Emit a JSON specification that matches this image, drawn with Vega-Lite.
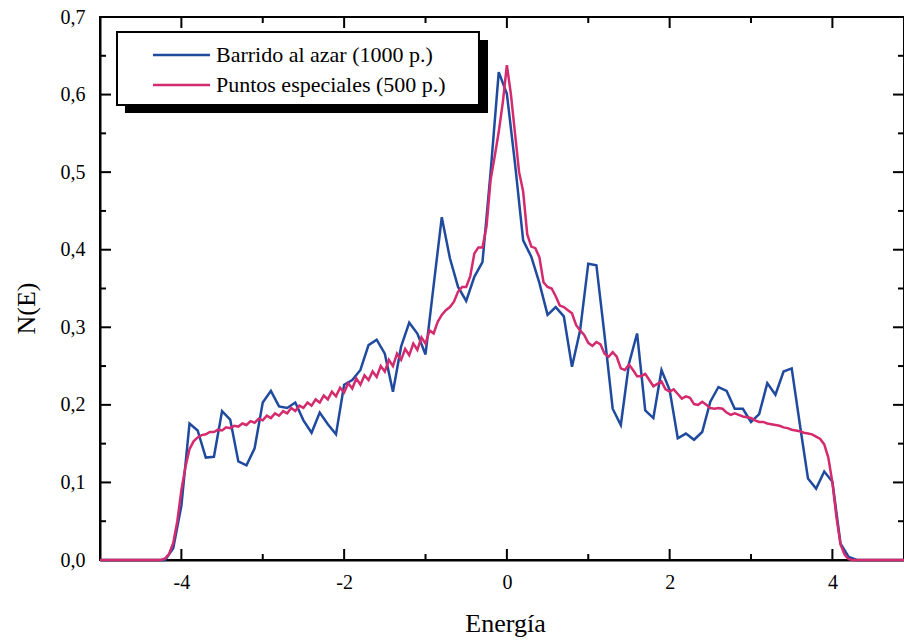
{
  "$schema": "https://vega.github.io/schema/vega-lite/v6.json",
  "width": 804,
  "height": 543,
  "autosize": {"type": "none"},
  "padding": {"left": 100, "top": 17, "right": 0, "bottom": 81},
  "background": "white",
  "config": {
    "font": "Liberation Serif",
    "view": {"stroke": "black", "strokeWidth": 2},
    "axis": {"labelFont": "Liberation Serif", "titleFont": "Liberation Serif", "domainColor": "black", "domainWidth": 2, "ticks": false, "grid": false, "labelColor": "black", "titleColor": "black"}
  },
  "datasets": {
    "barrido": [
      {"e": -5.0, "n": 0}, {"e": -4.2, "n": 0}, {"e": -4.1, "n": 0.015}, {"e": -4.0, "n": 0.07},
      {"e": -3.9, "n": 0.176}, {"e": -3.8, "n": 0.167}, {"e": -3.7, "n": 0.132}, {"e": -3.6, "n": 0.133},
      {"e": -3.5, "n": 0.192}, {"e": -3.4, "n": 0.181}, {"e": -3.3, "n": 0.127}, {"e": -3.2, "n": 0.122},
      {"e": -3.1, "n": 0.144}, {"e": -3.0, "n": 0.203}, {"e": -2.9, "n": 0.218}, {"e": -2.8, "n": 0.198},
      {"e": -2.7, "n": 0.196}, {"e": -2.6, "n": 0.203}, {"e": -2.5, "n": 0.180}, {"e": -2.4, "n": 0.164},
      {"e": -2.3, "n": 0.190}, {"e": -2.2, "n": 0.175}, {"e": -2.1, "n": 0.162}, {"e": -2.0, "n": 0.226},
      {"e": -1.9, "n": 0.232}, {"e": -1.8, "n": 0.245}, {"e": -1.7, "n": 0.277}, {"e": -1.6, "n": 0.284},
      {"e": -1.5, "n": 0.266}, {"e": -1.4, "n": 0.217}, {"e": -1.3, "n": 0.275}, {"e": -1.2, "n": 0.306},
      {"e": -1.1, "n": 0.292}, {"e": -1.0, "n": 0.265}, {"e": -0.9, "n": 0.354}, {"e": -0.8, "n": 0.442},
      {"e": -0.7, "n": 0.389}, {"e": -0.6, "n": 0.352}, {"e": -0.5, "n": 0.334}, {"e": -0.4, "n": 0.365},
      {"e": -0.3, "n": 0.384}, {"e": -0.2, "n": 0.50}, {"e": -0.1, "n": 0.629}, {"e": 0.0, "n": 0.601},
      {"e": 0.1, "n": 0.511}, {"e": 0.2, "n": 0.412}, {"e": 0.3, "n": 0.391}, {"e": 0.4, "n": 0.357},
      {"e": 0.5, "n": 0.316}, {"e": 0.6, "n": 0.326}, {"e": 0.7, "n": 0.314}, {"e": 0.8, "n": 0.249},
      {"e": 0.9, "n": 0.296}, {"e": 1.0, "n": 0.382}, {"e": 1.1, "n": 0.380}, {"e": 1.2, "n": 0.29},
      {"e": 1.3, "n": 0.195}, {"e": 1.4, "n": 0.174}, {"e": 1.5, "n": 0.253}, {"e": 1.6, "n": 0.292},
      {"e": 1.7, "n": 0.193}, {"e": 1.8, "n": 0.183}, {"e": 1.9, "n": 0.245}, {"e": 2.0, "n": 0.219},
      {"e": 2.1, "n": 0.157}, {"e": 2.2, "n": 0.163}, {"e": 2.3, "n": 0.155}, {"e": 2.4, "n": 0.165},
      {"e": 2.5, "n": 0.204}, {"e": 2.6, "n": 0.223}, {"e": 2.7, "n": 0.218}, {"e": 2.8, "n": 0.195},
      {"e": 2.9, "n": 0.195}, {"e": 3.0, "n": 0.178}, {"e": 3.1, "n": 0.188}, {"e": 3.2, "n": 0.228},
      {"e": 3.3, "n": 0.213}, {"e": 3.4, "n": 0.243}, {"e": 3.5, "n": 0.247}, {"e": 3.6, "n": 0.175},
      {"e": 3.7, "n": 0.105}, {"e": 3.8, "n": 0.092}, {"e": 3.9, "n": 0.114}, {"e": 4.0, "n": 0.101},
      {"e": 4.1, "n": 0.021}, {"e": 4.2, "n": 0.004}, {"e": 4.3, "n": 0}, {"e": 4.88, "n": 0}
    ],
    "puntos": [
      {"e": -5.0, "n": 0}, {"e": -4.25, "n": 0}, {"e": -4.2, "n": 0.002}, {"e": -4.15, "n": 0.008},
      {"e": -4.1, "n": 0.022}, {"e": -4.05, "n": 0.05}, {"e": -4.0, "n": 0.09}, {"e": -3.95, "n": 0.12},
      {"e": -3.9, "n": 0.143}, {"e": -3.85, "n": 0.153}, {"e": -3.8, "n": 0.158}, {"e": -3.75, "n": 0.161},
      {"e": -3.7, "n": 0.162}, {"e": -3.65, "n": 0.165}, {"e": -3.6, "n": 0.165}, {"e": -3.55, "n": 0.168},
      {"e": -3.5, "n": 0.167}, {"e": -3.45, "n": 0.171}, {"e": -3.4, "n": 0.170}, {"e": -3.35, "n": 0.173},
      {"e": -3.3, "n": 0.172}, {"e": -3.25, "n": 0.176}, {"e": -3.2, "n": 0.174}, {"e": -3.15, "n": 0.179},
      {"e": -3.1, "n": 0.177}, {"e": -3.05, "n": 0.182}, {"e": -3.0, "n": 0.180}, {"e": -2.95, "n": 0.186},
      {"e": -2.9, "n": 0.183}, {"e": -2.85, "n": 0.189}, {"e": -2.8, "n": 0.186}, {"e": -2.75, "n": 0.192},
      {"e": -2.7, "n": 0.189}, {"e": -2.65, "n": 0.196}, {"e": -2.6, "n": 0.192}, {"e": -2.55, "n": 0.199},
      {"e": -2.5, "n": 0.196}, {"e": -2.45, "n": 0.203}, {"e": -2.4, "n": 0.199}, {"e": -2.35, "n": 0.207},
      {"e": -2.3, "n": 0.203}, {"e": -2.25, "n": 0.212}, {"e": -2.2, "n": 0.207}, {"e": -2.15, "n": 0.217},
      {"e": -2.1, "n": 0.211}, {"e": -2.05, "n": 0.222}, {"e": -2.0, "n": 0.216}, {"e": -1.95, "n": 0.228},
      {"e": -1.9, "n": 0.221}, {"e": -1.85, "n": 0.234}, {"e": -1.8, "n": 0.226}, {"e": -1.75, "n": 0.238},
      {"e": -1.7, "n": 0.232}, {"e": -1.65, "n": 0.243}, {"e": -1.6, "n": 0.236}, {"e": -1.55, "n": 0.250},
      {"e": -1.5, "n": 0.243}, {"e": -1.45, "n": 0.258}, {"e": -1.4, "n": 0.250}, {"e": -1.35, "n": 0.266},
      {"e": -1.3, "n": 0.258}, {"e": -1.25, "n": 0.272}, {"e": -1.2, "n": 0.264}, {"e": -1.15, "n": 0.279},
      {"e": -1.1, "n": 0.271}, {"e": -1.05, "n": 0.287}, {"e": -1.0, "n": 0.279}, {"e": -0.95, "n": 0.296},
      {"e": -0.9, "n": 0.292}, {"e": -0.85, "n": 0.307}, {"e": -0.8, "n": 0.316}, {"e": -0.75, "n": 0.322},
      {"e": -0.7, "n": 0.326}, {"e": -0.65, "n": 0.333}, {"e": -0.6, "n": 0.346}, {"e": -0.55, "n": 0.352},
      {"e": -0.5, "n": 0.352}, {"e": -0.45, "n": 0.366}, {"e": -0.4, "n": 0.395}, {"e": -0.35, "n": 0.403},
      {"e": -0.3, "n": 0.403}, {"e": -0.25, "n": 0.43}, {"e": -0.2, "n": 0.49}, {"e": -0.15, "n": 0.52},
      {"e": -0.1, "n": 0.552}, {"e": -0.05, "n": 0.59}, {"e": 0.0, "n": 0.638}, {"e": 0.05, "n": 0.60},
      {"e": 0.1, "n": 0.55}, {"e": 0.15, "n": 0.50}, {"e": 0.2, "n": 0.475}, {"e": 0.25, "n": 0.42},
      {"e": 0.3, "n": 0.404}, {"e": 0.35, "n": 0.402}, {"e": 0.4, "n": 0.39}, {"e": 0.45, "n": 0.358},
      {"e": 0.5, "n": 0.352}, {"e": 0.55, "n": 0.350}, {"e": 0.6, "n": 0.34}, {"e": 0.65, "n": 0.328},
      {"e": 0.7, "n": 0.326}, {"e": 0.75, "n": 0.322}, {"e": 0.8, "n": 0.318}, {"e": 0.85, "n": 0.303},
      {"e": 0.9, "n": 0.296}, {"e": 0.95, "n": 0.29}, {"e": 1.0, "n": 0.28}, {"e": 1.05, "n": 0.276},
      {"e": 1.1, "n": 0.281}, {"e": 1.15, "n": 0.278}, {"e": 1.2, "n": 0.266}, {"e": 1.25, "n": 0.262},
      {"e": 1.3, "n": 0.268}, {"e": 1.35, "n": 0.262}, {"e": 1.4, "n": 0.247}, {"e": 1.45, "n": 0.245},
      {"e": 1.5, "n": 0.252}, {"e": 1.55, "n": 0.245}, {"e": 1.6, "n": 0.237}, {"e": 1.65, "n": 0.237},
      {"e": 1.7, "n": 0.240}, {"e": 1.75, "n": 0.232}, {"e": 1.8, "n": 0.224}, {"e": 1.85, "n": 0.227},
      {"e": 1.9, "n": 0.230}, {"e": 1.95, "n": 0.220}, {"e": 2.0, "n": 0.217}, {"e": 2.05, "n": 0.220},
      {"e": 2.1, "n": 0.214}, {"e": 2.15, "n": 0.208}, {"e": 2.2, "n": 0.211}, {"e": 2.25, "n": 0.209},
      {"e": 2.3, "n": 0.201}, {"e": 2.35, "n": 0.200}, {"e": 2.4, "n": 0.204}, {"e": 2.45, "n": 0.200},
      {"e": 2.5, "n": 0.196}, {"e": 2.55, "n": 0.195}, {"e": 2.6, "n": 0.196}, {"e": 2.65, "n": 0.195},
      {"e": 2.7, "n": 0.190}, {"e": 2.75, "n": 0.187}, {"e": 2.8, "n": 0.189}, {"e": 2.85, "n": 0.187},
      {"e": 2.9, "n": 0.185}, {"e": 2.95, "n": 0.184}, {"e": 3.0, "n": 0.183}, {"e": 3.05, "n": 0.180},
      {"e": 3.1, "n": 0.178}, {"e": 3.15, "n": 0.178}, {"e": 3.2, "n": 0.176}, {"e": 3.25, "n": 0.175},
      {"e": 3.3, "n": 0.174}, {"e": 3.35, "n": 0.173}, {"e": 3.4, "n": 0.171}, {"e": 3.45, "n": 0.170},
      {"e": 3.5, "n": 0.168}, {"e": 3.55, "n": 0.167}, {"e": 3.6, "n": 0.166}, {"e": 3.65, "n": 0.164},
      {"e": 3.7, "n": 0.163}, {"e": 3.75, "n": 0.162}, {"e": 3.8, "n": 0.159}, {"e": 3.85, "n": 0.156},
      {"e": 3.9, "n": 0.149}, {"e": 3.95, "n": 0.132}, {"e": 4.0, "n": 0.1}, {"e": 4.05, "n": 0.055},
      {"e": 4.1, "n": 0.02}, {"e": 4.15, "n": 0.007}, {"e": 4.2, "n": 0.001}, {"e": 4.25, "n": 0},
      {"e": 4.88, "n": 0}
    ]
  },
  "layer": [
    {
      "data": {"values": [{}]},
      "mark": {"type": "rect", "fillOpacity": 0, "stroke": "black", "strokeWidth": 2},
      "encoding": {
        "x": {"datum": -5, "type": "quantitative", "scale": {"domain": [-5, 4.88], "nice": false, "zero": false}},
        "x2": {"datum": 4.88},
        "y": {"datum": 0, "type": "quantitative", "scale": {"domain": [0, 0.7], "nice": false, "zero": false}},
        "y2": {"datum": 0.7}
      }
    },
    {
      "data": {"name": "barrido"},
      "mark": {"type": "line", "strokeWidth": 2.5, "color": "#1f4a9e"},
      "encoding": {
        "x": {
          "field": "e", "type": "quantitative",
          "axis": {
            "orient": "bottom", "values": [-4, -2, 0, 2, 4],
            "labelExpr": "'' + datum.value",
            "labelFont": "Liberation Serif", "labelFontSize": 20, "labelPadding": 12,
            "title": "Energía", "titleFontSize": 26, "titleFontWeight": "normal",
            "titleX": 405, "titleY": 71, "titleBaseline": "alphabetic", "titleAlign": "center"
          }
        },
        "y": {
          "field": "n", "type": "quantitative",
          "axis": {
            "orient": "left", "values": [0, 0.1, 0.2, 0.3, 0.4, 0.5, 0.6, 0.7],
            "labelExpr": "replace(format(datum.value, '.1f'), '.', ',')",
            "labelFont": "Liberation Serif", "labelFontSize": 20, "labelPadding": 15,
            "title": "N(E)", "titleFontSize": 26, "titleFontWeight": "normal",
            "titleX": -66, "titleY": 291, "titleBaseline": "alphabetic", "titleAlign": "center", "titleAngle": -90
          }
        }
      }
    },
    {
      "data": {"name": "puntos"},
      "mark": {"type": "line", "strokeWidth": 2.5, "color": "#d42a6e"},
      "encoding": {
        "x": {"field": "e", "type": "quantitative"},
        "y": {"field": "n", "type": "quantitative"}
      }
    },
    {
      "data": {"values": [{"v": -4}, {"v": -2}, {"v": 0}, {"v": 2}, {"v": 4}]},
      "mark": {"type": "rule", "color": "black", "strokeWidth": 2},
      "encoding": {"x": {"field": "v", "type": "quantitative"}, "y": {"datum": 0}, "y2": {"datum": 0.0142}}
    },
    {
      "data": {"values": [{"v": -4}, {"v": -2}, {"v": 0}, {"v": 2}, {"v": 4}]},
      "mark": {"type": "rule", "color": "black", "strokeWidth": 2},
      "encoding": {"x": {"field": "v", "type": "quantitative"}, "y": {"datum": 0.7}, "y2": {"datum": 0.6858}}
    },
    {
      "data": {"values": [{"v": -3}, {"v": -1}, {"v": 1}, {"v": 3}]},
      "mark": {"type": "rule", "color": "black", "strokeWidth": 2},
      "encoding": {"x": {"field": "v", "type": "quantitative"}, "y": {"datum": 0}, "y2": {"datum": 0.0077}}
    },
    {
      "data": {"values": [{"v": -3}, {"v": -1}, {"v": 1}, {"v": 3}]},
      "mark": {"type": "rule", "color": "black", "strokeWidth": 2},
      "encoding": {"x": {"field": "v", "type": "quantitative"}, "y": {"datum": 0.7}, "y2": {"datum": 0.6923}}
    },
    {
      "data": {"values": [{"v": 0.1}, {"v": 0.2}, {"v": 0.3}, {"v": 0.4}, {"v": 0.5}, {"v": 0.6}]},
      "mark": {"type": "rule", "color": "black", "strokeWidth": 2},
      "encoding": {"y": {"field": "v", "type": "quantitative"}, "x": {"datum": -5}, "x2": {"datum": -4.865}}
    },
    {
      "data": {"values": [{"v": 0.1}, {"v": 0.2}, {"v": 0.3}, {"v": 0.4}, {"v": 0.5}, {"v": 0.6}]},
      "mark": {"type": "rule", "color": "black", "strokeWidth": 2},
      "encoding": {"y": {"field": "v", "type": "quantitative"}, "x": {"datum": 4.88}, "x2": {"datum": 4.745}}
    },
    {
      "data": {"values": [{"v": 0.05}, {"v": 0.15}, {"v": 0.25}, {"v": 0.35}, {"v": 0.45}, {"v": 0.55}, {"v": 0.65}]},
      "mark": {"type": "rule", "color": "black", "strokeWidth": 2},
      "encoding": {"y": {"field": "v", "type": "quantitative"}, "x": {"datum": -5}, "x2": {"datum": -4.926}}
    },
    {
      "data": {"values": [{"v": 0.05}, {"v": 0.15}, {"v": 0.25}, {"v": 0.35}, {"v": 0.45}, {"v": 0.55}, {"v": 0.65}]},
      "mark": {"type": "rule", "color": "black", "strokeWidth": 2},
      "encoding": {"y": {"field": "v", "type": "quantitative"}, "x": {"datum": 4.88}, "x2": {"datum": 4.806}}
    },
    {
      "data": {"values": [{}]},
      "mark": {"type": "rect", "color": "black", "opacity": 1},
      "encoding": {"x": {"datum": -4.693}, "x2": {"datum": -0.232}, "y": {"datum": 0.6703}, "y2": {"datum": 0.5762}}
    },
    {
      "data": {"values": [{}]},
      "mark": {"type": "rect", "fill": "white", "stroke": "black", "strokeWidth": 2, "opacity": 1},
      "encoding": {"x": {"datum": -4.791}, "x2": {"datum": -0.343}, "y": {"datum": 0.6807}, "y2": {"datum": 0.5866}}
    },
    {
      "data": {"values": [{}]},
      "mark": {"type": "rule", "color": "#1f4a9e", "strokeWidth": 2.5},
      "encoding": {"x": {"datum": -4.349}, "x2": {"datum": -3.648}, "y": {"datum": 0.651}}
    },
    {
      "data": {"values": [{}]},
      "mark": {"type": "rule", "color": "#d42a6e", "strokeWidth": 2.5},
      "encoding": {"x": {"datum": -4.349}, "x2": {"datum": -3.648}, "y": {"datum": 0.6123}}
    },
    {
      "data": {"values": [{}]},
      "mark": {"type": "text", "align": "left", "baseline": "middle", "font": "Liberation Serif", "fontSize": 22, "color": "black"},
      "encoding": {"x": {"datum": -3.575}, "y": {"datum": 0.651}, "text": {"value": "Barrido al azar (1000 p.)"}}
    },
    {
      "data": {"values": [{}]},
      "mark": {"type": "text", "align": "left", "baseline": "middle", "font": "Liberation Serif", "fontSize": 22, "color": "black"},
      "encoding": {"x": {"datum": -3.575}, "y": {"datum": 0.6123}, "text": {"value": "Puntos especiales (500 p.)"}}
    }
  ]
}
